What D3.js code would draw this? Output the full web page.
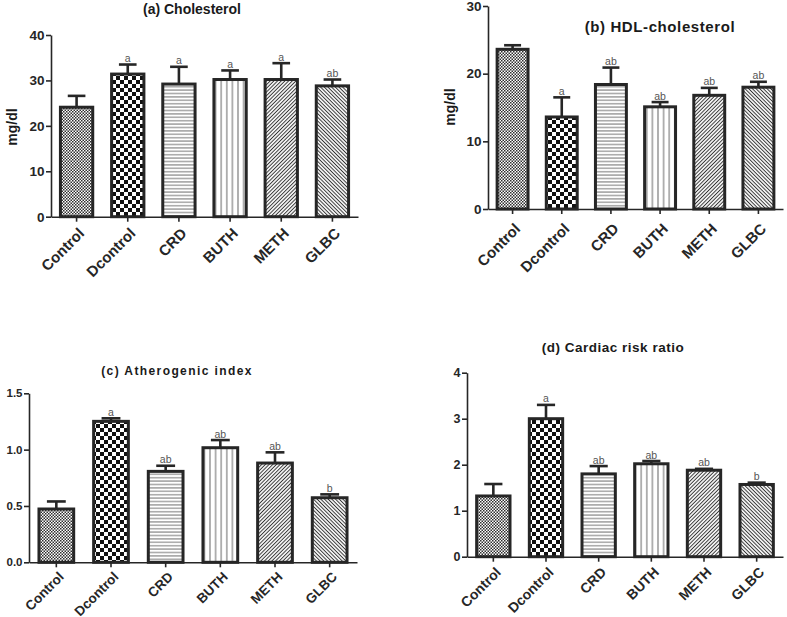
<!DOCTYPE html>
<html><head><meta charset="utf-8">
<script src="https://cdn.jsdelivr.net/npm/d3@7"></script>
<style>
body{margin:0;background:#fff}
svg{display:block}
text{font-family:"Liberation Sans",Arial,sans-serif}
</style>
</head><body>
<svg id="chart" width="787" height="617"></svg>
<script>
// ---------- data ----------
const categories = ["Control","Dcontrol","CRD","BUTH","METH","GLBC"];

const cholMean = [24.1, 31.4, 29.2, 30.2, 30.2, 28.8];
const cholSem  = [2.5, 2.1, 3.8, 2.0, 3.6, 1.4];
const cholLetters = ["", "a", "a", "a", "a", "ab"];
const cholTicks = [0, 10, 20, 30, 40];

const hdlMean = [23.6, 13.6, 18.4, 15.1, 16.8, 18.0];
const hdlSem  = [0.6, 2.9, 2.5, 0.7, 1.1, 0.8];
const hdlLetters = ["", "a", "ab", "ab", "ab", "ab"];
const hdlTicks = [0, 10, 20, 30];

const aiMean = [0.473, 1.251, 0.807, 1.017, 0.881, 0.573];
const aiSem  = [0.067, 0.027, 0.050, 0.068, 0.095, 0.030];
const aiLetters = ["", "a", "ab", "ab", "ab", "b"];
const aiTicks = [0, 0.5, 1.0, 1.5];

const crrMean = [1.32, 3.00, 1.80, 2.02, 1.88, 1.57];
const crrSem  = [0.26, 0.30, 0.17, 0.06, 0.03, 0.04];
const crrLetters = ["", "a", "ab", "ab", "ab", "b"];
const crrTicks = [0, 1, 2, 3, 4];

const titles = ["(a) Cholesterol", "(b) HDL-cholesterol", "(c) Atherogenic index", "(d) Cardiac risk ratio"];
const yLabel = "mg/dl";

// ---------- patterns ----------
const svg = d3.select("#chart");
const defs = svg.append("defs");
const patIds = ["pCtrl","pDctrl","pCRD","pBUTH","pMETH","pGLBC"];

let p = defs.append("pattern").attr("id","pCtrl").attr("patternUnits","userSpaceOnUse").attr("width",3).attr("height",3);
p.append("rect").attr("width",3).attr("height",3).attr("fill","#fff");
p.append("rect").attr("width",1.5).attr("height",1.5).attr("fill","#2e2e2e");
p.append("rect").attr("x",1.5).attr("y",1.5).attr("width",1.5).attr("height",1.5).attr("fill","#2e2e2e");

p = defs.append("pattern").attr("id","pDctrl").attr("patternUnits","userSpaceOnUse").attr("width",8).attr("height",8);
p.append("rect").attr("width",8).attr("height",8).attr("fill","#fff");
p.append("rect").attr("width",4).attr("height",4).attr("fill","#111");
p.append("rect").attr("x",4).attr("y",4).attr("width",4).attr("height",4).attr("fill","#111");

p = defs.append("pattern").attr("id","pCRD").attr("patternUnits","userSpaceOnUse").attr("width",6).attr("height",3.4);
p.append("rect").attr("width",6).attr("height",3.4).attr("fill","#fff");
p.append("line").attr("x1",0).attr("x2",6).attr("y1",1.7).attr("y2",1.7).attr("stroke","#8a8a8a").attr("stroke-width",1.2);

p = defs.append("pattern").attr("id","pBUTH").attr("patternUnits","userSpaceOnUse").attr("width",5.6).attr("height",6);
p.append("rect").attr("width",5.6).attr("height",6).attr("fill","#fff");
p.append("line").attr("x1",2.8).attr("x2",2.8).attr("y1",0).attr("y2",6).attr("stroke","#8a8a8a").attr("stroke-width",1.3);

p = defs.append("pattern").attr("id","pMETH").attr("patternUnits","userSpaceOnUse").attr("width",2.6).attr("height",6).attr("patternTransform","rotate(45)");
p.append("rect").attr("width",2.6).attr("height",6).attr("fill","#fff");
p.append("line").attr("x1",1.3).attr("x2",1.3).attr("y1",0).attr("y2",6).attr("stroke","#333").attr("stroke-width",1);

p = defs.append("pattern").attr("id","pGLBC").attr("patternUnits","userSpaceOnUse").attr("width",2.6).attr("height",6).attr("patternTransform","rotate(-45)");
p.append("rect").attr("width",2.6).attr("height",6).attr("fill","#fff");
p.append("line").attr("x1",1.3).attr("x2",1.3).attr("y1",0).attr("y2",6).attr("stroke","#333").attr("stroke-width",1);

// ---------- panels ----------
const panels = [
  {x0:51, x1:358, yTop:35, yBot:216.7, ticks:cholTicks, fmt:d3.format("d"), mean:cholMean, sem:cholSem, letters:cholLetters,
   title:titles[0], tx:192, ty:14, tSize:14, tSpace:0, tickSize:13.5, labSize:15, lab:[5,14], ylab:{x:17, y:127}},
  {x0:488, x1:783, yTop:6, yBot:209, ticks:hdlTicks, fmt:d3.format("d"), mean:hdlMean, sem:hdlSem, letters:hdlLetters,
   title:titles[1], tx:660, ty:32, tSize:15, tSpace:0.6, tickSize:13.5, labSize:15, lab:[5,17], ylab:{x:455, y:107}},
  {x0:29, x1:357, yTop:393.3, yBot:562.3, ticks:aiTicks, fmt:d3.format(".1f"), mean:aiMean, sem:aiSem, letters:aiLetters,
   title:titles[2], tx:177, ty:375, tSize:12, tSpace:1.4, tickSize:11.5, labSize:13.5, lab:[5,12], ylab:null},
  {x0:467, x1:783, yTop:372.7, yBot:556.7, ticks:crrTicks, fmt:d3.format("d"), mean:crrMean, sem:crrSem, letters:crrLetters,
   title:titles[3], tx:613, ty:352, tSize:13.5, tSpace:0.5, tickSize:12.5, labSize:14, lab:[5,13], ylab:null}
];

panels.forEach(cfg => {
  const g = svg.append("g");
  const x = d3.scaleBand().domain(categories).range([cfg.x0, cfg.x1]).paddingInner(0.31).paddingOuter(0.155);
  const y = d3.scaleLinear().domain([0, d3.max(cfg.ticks)]).range([cfg.yBot, cfg.yTop]);

  const rows = categories.map((c,i) => ({c, m:cfg.mean[i], s:cfg.sem[i], l:cfg.letters[i], pat:patIds[i]}));

  // error bars
  const capW = x.bandwidth()*0.5;
  rows.forEach(r => {
    const cx = x(r.c) + x.bandwidth()/2;
    g.append("line").attr("x1",cx).attr("x2",cx).attr("y1",y(r.m)).attr("y2",y(r.m+r.s))
      .attr("stroke","#262626").attr("stroke-width",2.6);
    g.append("line").attr("x1",cx-capW/2).attr("x2",cx+capW/2).attr("y1",y(r.m+r.s)).attr("y2",y(r.m+r.s))
      .attr("stroke","#262626").attr("stroke-width",2.6);
    if (r.l) {
      g.append("text").attr("x",cx).attr("y",y(r.m+r.s)-2.5).attr("text-anchor","middle")
        .attr("font-size",10.5).attr("fill","#555").text(r.l);
    }
  });

  // bars
  g.selectAll("rect.bar").data(rows).join("rect").attr("class","bar")
    .attr("x", d => x(d.c)+1.5).attr("width", x.bandwidth()-3)
    .attr("y", d => y(d.m)).attr("height", d => y(0)-y(d.m))
    .attr("fill", d => `url(#${d.pat})`).attr("stroke","#262626").attr("stroke-width",3);

  // y axis
  const ya = g.append("g").attr("transform",`translate(${cfg.x0},0)`)
    .call(d3.axisLeft(y).tickValues(cfg.ticks).tickFormat(cfg.fmt).tickSize(5).tickSizeOuter(0));
  ya.select(".domain").attr("stroke","#262626").attr("stroke-width",1.6);
  ya.selectAll(".tick line").attr("stroke","#262626").attr("stroke-width",1.6);
  ya.selectAll(".tick text").attr("font-size",cfg.tickSize).attr("font-weight","bold").attr("fill","#262626")
    .attr("font-family","'Liberation Sans',Arial,sans-serif").attr("x",-6.5);

  // x axis
  const xa = g.append("g").attr("transform",`translate(0,${cfg.yBot})`)
    .call(d3.axisBottom(x).tickSize(5).tickSizeOuter(0));
  xa.select(".domain").attr("stroke","#262626").attr("stroke-width",1.6);
  xa.selectAll(".tick line").attr("stroke","#262626").attr("stroke-width",1.6);
  xa.selectAll(".tick text").attr("font-size",cfg.labSize).attr("font-weight","bold").attr("fill","#262626")
    .attr("font-family","'Liberation Sans',Arial,sans-serif")
    .attr("text-anchor","end").attr("x",0).attr("y",0).attr("dy","0.35em")
    .attr("transform",`translate(${cfg.lab[0]},${cfg.lab[1]}) rotate(-45)`);

  // title
  g.append("text").attr("x",cfg.tx).attr("y",cfg.ty).attr("text-anchor","middle")
    .attr("font-size",cfg.tSize).attr("font-weight","bold").attr("fill","#1a1a1a")
    .attr("letter-spacing",cfg.tSpace).text(cfg.title);

  if (cfg.ylab) {
    g.append("text").attr("transform",`translate(${cfg.ylab.x},${cfg.ylab.y}) rotate(-90)`)
      .attr("text-anchor","middle").attr("font-size",14).attr("font-weight","bold").attr("fill","#1a1a1a")
      .text(yLabel);
  }
});
</script>
</body></html>
